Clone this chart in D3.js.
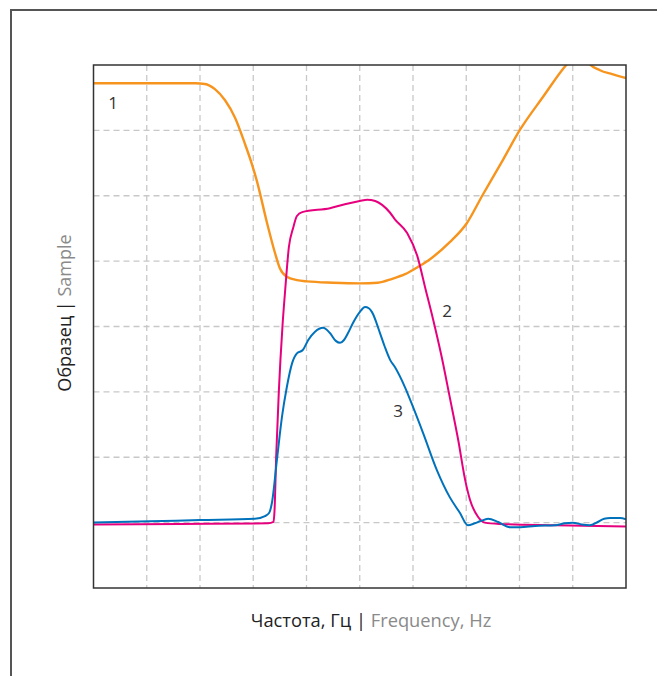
<!DOCTYPE html>
<html><head><meta charset="utf-8">
<script src="https://cdn.jsdelivr.net/npm/d3@7"></script>
<style>body{margin:0;background:#fff}svg{display:block}</style>
</head><body>
<svg id="c" width="657" height="676"></svg>
<script>
// Curve 1 (orange)
const curve1X = [0,1.06,1.91,2.09,2.28,2.47,2.66,2.85,2.98,3.07,3.26,3.41,3.50,3.63,3.82,4.01,4.50,5.00,5.34,5.61,5.85,6.09,6.32,6.69,7.01,7.30,7.69,8.01,8.44,8.91,9.02,9.14,9.23,9.31,9.51,9.74,10];
const curve1Y = [7.72,7.72,7.72,7.71,7.63,7.46,7.19,6.78,6.47,6.22,5.58,5.12,4.89,4.76,4.71,4.69,4.67,4.66,4.67,4.73,4.80,4.91,5.03,5.29,5.58,6.00,6.55,7.01,7.51,8.03,8.12,8.17,8.11,8.02,7.92,7.86,7.80];
// Curve 2 (magenta)
const curve2X = [0,1.62,3.28,3.38,3.40,3.43,3.48,3.55,3.60,3.67,3.75,3.82,3.92,4.44,4.72,5.00,5.14,5.29,5.42,5.57,5.66,5.89,6.08,6.23,6.38,6.54,6.69,6.85,6.98,7.07,7.22,7.35,7.63,8.67,10];
const curve2Y = [0.97,0.98,0.99,1.01,1.19,2.00,3.00,4.02,4.56,5.22,5.51,5.69,5.75,5.81,5.87,5.92,5.94,5.92,5.86,5.74,5.64,5.43,5.08,4.59,4.10,3.53,2.92,2.26,1.65,1.35,1.09,1.00,0.98,0.96,0.94];
// Curve 3 (blue)
const curve3X = [0,1.06,2.00,3.03,3.22,3.30,3.35,3.45,3.54,3.63,3.73,3.82,3.93,4.03,4.16,4.31,4.44,4.55,4.63,4.70,4.78,4.87,5.00,5.10,5.17,5.23,5.38,5.47,5.57,5.66,5.85,6.00,6.19,6.45,6.69,6.88,7.03,7.16,7.26,7.41,7.60,7.82,8.01,8.29,8.67,8.85,9.00,9.17,9.32,9.47,9.59,9.70,9.89,10];
const curve3Y = [1.00,1.02,1.04,1.06,1.10,1.15,1.30,2.00,2.62,3.07,3.44,3.59,3.64,3.79,3.92,3.98,3.90,3.78,3.75,3.79,3.90,4.05,4.22,4.30,4.28,4.22,3.90,3.69,3.49,3.38,3.07,2.77,2.37,1.80,1.39,1.15,0.96,0.99,1.02,1.06,1.01,0.93,0.93,0.95,0.96,0.99,1.00,0.97,0.96,1.01,1.06,1.07,1.07,1.05];

const curveLabels = ["1","2","3"];
const labelX = [0.37,6.64,5.72];
const labelY = [7.42,4.25,2.72];
const xTicks = [1,2,3,4,5,6,7,8,9];
const yTicks = [1,2,3,4,5,6,7];
const xTitle = ["Частота, Гц | ", "Frequency, Hz"];
const yTitle = ["Образец | ", "Sample"];

const colors = ["#f7941d","#e6007e","#0072bc"];
const widths = [2.4,2,2];
const font = "'Open Sans', 'Noto Sans', sans-serif";

const svg = d3.select("#c");
const L = 93.5, R = 626, T = 65, B = 588;
const x = d3.scaleLinear().domain([0,10]).range([L,R]);
const y = d3.scaleLinear().domain([0,8]).range([B,T]);

// outer frame
svg.append("rect").attr("x",11).attr("y",10).attr("width",720).attr("height",720)
  .attr("fill","none").attr("stroke","#555").attr("stroke-width",2);

// grid
const grid = svg.append("g").attr("stroke","#c8c8c8").attr("stroke-width",1.3).attr("stroke-dasharray","6,4");
grid.selectAll("line.v").data(xTicks).join("line").attr("class","v")
  .attr("x1",d=>x(d)).attr("x2",d=>x(d)).attr("y1",T).attr("y2",B);
grid.selectAll("line.h").data(yTicks).join("line").attr("class","h")
  .attr("y1",d=>y(d)).attr("y2",d=>y(d)).attr("x1",L).attr("x2",R);

svg.append("clipPath").attr("id","clip").append("rect")
  .attr("x",L).attr("y",T).attr("width",R-L).attr("height",B-T);

const series = [[curve1X,curve1Y],[curve2X,curve2Y],[curve3X,curve3Y]];
const line = d3.line().x(d=>x(d[0])).y(d=>y(d[1])).curve(d3.curveMonotoneX);
const lg = svg.append("g").attr("clip-path","url(#clip)");
series.forEach((s,i)=>{
  const pts = s[0].map((v,j)=>[v,s[1][j]]);
  lg.append("path").attr("d",line(pts)).attr("fill","none")
    .attr("stroke",colors[i]).attr("stroke-width",widths[i]).attr("stroke-linejoin","round");
});

// plot frame
svg.append("rect").attr("x",L).attr("y",T).attr("width",R-L).attr("height",B-T)
  .attr("fill","none").attr("stroke","#333").attr("stroke-width",1.5);

// curve labels
svg.selectAll("text.cl").data(curveLabels).join("text").attr("class","cl")
  .attr("x",(d,i)=>x(labelX[i])).attr("y",(d,i)=>y(labelY[i]))
  .attr("text-anchor","middle").attr("dominant-baseline","central")
  .attr("font-family",font).attr("font-size",17).attr("fill","#333").text(d=>d);

// axis titles
const xt = svg.append("text").attr("x",371).attr("y",619).attr("text-anchor","middle")
  .attr("dominant-baseline","central").attr("font-family",font).attr("font-size",18.3);
xt.append("tspan").attr("fill","#222").text(xTitle[0]);
xt.append("tspan").attr("fill","#8a8a8a").text(xTitle[1]);

const yt = svg.append("text").attr("transform","translate(64,313) rotate(-90)").attr("text-anchor","middle")
  .attr("dominant-baseline","central").attr("font-family",font).attr("font-size",18);
yt.append("tspan").attr("fill","#222").text(yTitle[0]);
yt.append("tspan").attr("fill","#8a8a8a").text(yTitle[1]);
</script>
</body></html>
